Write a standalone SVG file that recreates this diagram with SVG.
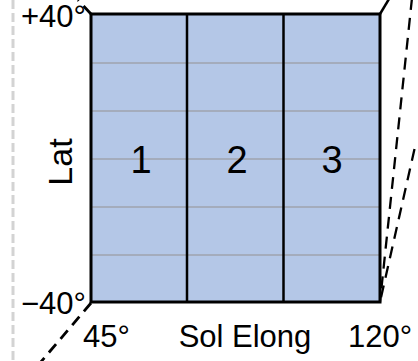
<svg xmlns="http://www.w3.org/2000/svg" width="418" height="361" viewBox="0 0 418 361">
<style>
text{font-family:"Liberation Sans",Arial,sans-serif;fill:#000}
.lbl{font-size:31px}
.num{font-size:38px;text-anchor:middle}
.grid{stroke:#A4ACBC;stroke-width:2}
.div{stroke:#000;stroke-width:2.5}
.dash{stroke:#000;stroke-width:2.8;stroke-dasharray:11 7;fill:none}
.rdash{stroke:#000;stroke-width:2.3;stroke-dasharray:12 8;fill:none}
</style>
<rect width="418" height="361" fill="#fff"/>
<line x1="13" y1="0" x2="13" y2="361" stroke="#D3D3D3" stroke-width="3" stroke-dasharray="9 4"/>
<g id="connectors">
<line class="dash" x1="91" y1="303" x2="40" y2="363"/>
<line class="dash" x1="91" y1="14" x2="78" y2="0"/>
<line x1="380" y1="14" x2="389" y2="-1" stroke="#000" stroke-width="2.5"/>
<line class="rdash" x1="412" y1="-2" x2="380" y2="302"/>
<line class="rdash" x1="414.5" y1="149" x2="380" y2="302"/>
</g>
<g id="region">
<rect x="91" y="14" width="289" height="288" fill="#B4C7E7"/>
<line class="grid" x1="92" y1="63" x2="379" y2="63"/>
<line class="grid" x1="92" y1="111" x2="379" y2="111"/>
<line class="grid" x1="92" y1="159" x2="379" y2="159"/>
<line class="grid" x1="92" y1="207" x2="379" y2="207"/>
<line class="grid" x1="92" y1="255" x2="379" y2="255"/>
<line class="div" x1="187" y1="14" x2="187" y2="302"/>
<line class="div" x1="283.5" y1="14" x2="283.5" y2="302"/>
<rect x="91" y="14" width="289" height="288" fill="none" stroke="#000" stroke-width="3"/>
</g>
<g id="cell1"><text class="num" x="141" y="173">1</text></g>
<g id="cell2"><text class="num" x="237" y="173">2</text></g>
<g id="cell3"><text class="num" x="332" y="173">3</text></g>
<g id="labels">
<text class="lbl" x="21" y="27">+40°</text>
<text class="lbl" x="21" y="314">−40°</text>
<text class="lbl" x="83" y="347">45°</text>
<text class="lbl" x="245" y="347" text-anchor="middle">Sol Elong</text>
<text class="lbl" x="348" y="347">120°</text>
<text text-anchor="middle" transform="translate(72,162) rotate(-90)" style="font-size:34px">Lat</text>
</g>
</svg>
